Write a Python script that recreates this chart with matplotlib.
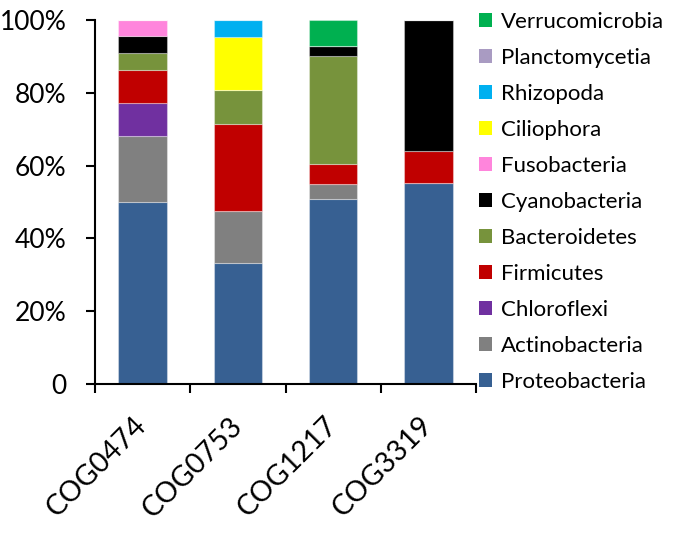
import numpy as np
import matplotlib
matplotlib.use("Agg")
import matplotlib.pyplot as plt
from matplotlib.patches import Patch

plt.rcParams['font.family'] = ['Lato', 'DejaVu Sans']

# percentages per COG
cogs = ['COG0474', 'COG0753', 'COG1217', 'COG3319']
proteobacteria = [50.0, 33.3, 50.7, 55.3]
actinobacteria = [18.2, 14.3, 4.2, 0]
chloroflexi = [9.1, 0, 0, 0]
firmicutes = [9.1, 23.8, 5.6, 8.8]
bacteroidetes = [4.55, 9.5, 29.6, 0]
cyanobacteria = [4.55, 0, 2.8, 35.9]
fusobacteria = [4.5, 0, 0, 0]
ciliophora = [0, 14.3, 0, 0]
rhizopoda = [0, 4.8, 0, 0]
planctomycetia = [0, 0, 0, 0]
verrucomicrobia = [0, 0, 7.1, 0]

series = [
    ('Proteobacteria', proteobacteria, '#376092'),
    ('Actinobacteria', actinobacteria, '#808080'),
    ('Chloroflexi', chloroflexi, '#7030A0'),
    ('Firmicutes', firmicutes, '#C00000'),
    ('Bacteroidetes', bacteroidetes, '#77933C'),
    ('Cyanobacteria', cyanobacteria, '#000000'),
    ('Fusobacteria', fusobacteria, '#FF85DC'),
    ('Ciliophora', ciliophora, '#FFFF00'),
    ('Rhizopoda', rhizopoda, '#00B0F0'),
    ('Planctomycetia', planctomycetia, '#A99BC2'),
    ('Verrucomicrobia', verrucomicrobia, '#00B050'),
]

fig = plt.figure(figsize=(6.74, 5.33), dpi=100)
ax = fig.add_axes([95 / 674, 1 - 384 / 533, (476 - 95) / 674, (384 - 20) / 533])

x = np.arange(len(cogs))
bottom = np.zeros(len(cogs))
for name, vals, col in series:
    vals = np.array(vals, dtype=float)
    ax.bar(x, vals, 0.51, bottom=bottom, color=col,
           edgecolor=(1, 1, 1, 0.35), linewidth=0.8)
    bottom += vals

ax.set_xlim(-0.5, len(cogs) - 0.5)
ax.set_ylim(0, 100)
ax.spines['top'].set_visible(False)
ax.spines['right'].set_visible(False)
for s in ('left', 'bottom'):
    ax.spines[s].set_linewidth(1.5)

ax.set_yticks([0, 20, 40, 60, 80, 100])
ax.set_yticklabels(['0', '20%', '40%', '60%', '80%', '100%'], fontsize=19)
ax.tick_params(axis='y', length=6.5, width=1.5, pad=14)

# category boundaries carry the tick marks, labels sit at bar centres
ax.set_xticks(np.arange(len(cogs) + 1) - 0.5)
ax.set_xticklabels([])
ax.tick_params(axis='x', which='major', length=6.5, width=1.5)
ax.set_xticks(x, minor=True)
ax.set_xticklabels(cogs, minor=True, rotation=45, ha='right', va='center',
                   rotation_mode='anchor', fontsize=20.5)
ax.tick_params(axis='x', which='minor', length=0, pad=27)

handles = [Patch(facecolor=col, edgecolor='none', label=name)
           for name, vals, col in series[::-1]]
fig.legend(handles=handles, loc='upper left',
           bbox_to_anchor=(479 / 674, 1 - 12 / 533), frameon=False,
           fontsize=16, handlelength=0.6, handleheight=0.6,
           handletextpad=0.4, labelspacing=0.72, borderaxespad=0,
           borderpad=0)

fig.savefig('out.png', dpi=100)
